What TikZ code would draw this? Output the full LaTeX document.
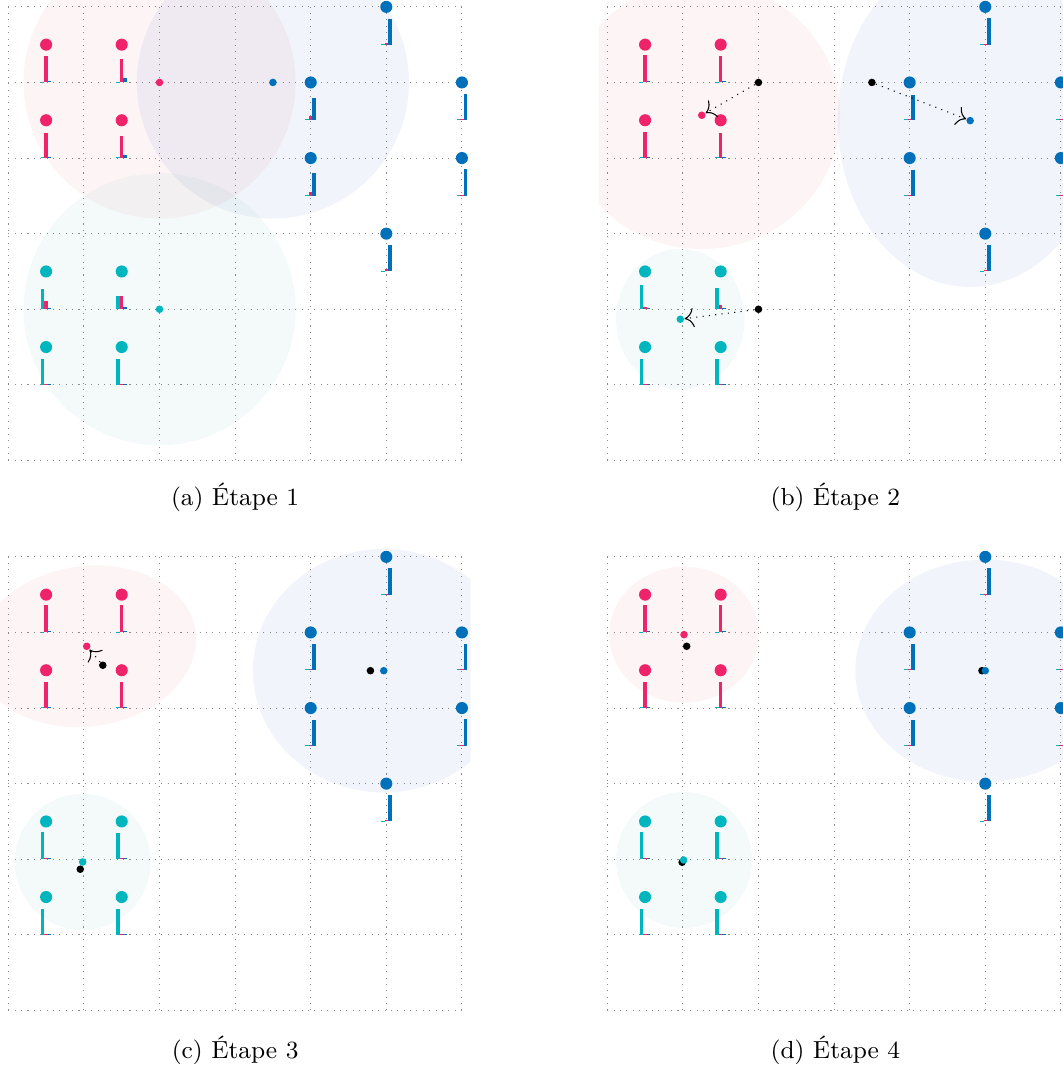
\documentclass[tikz,border=0pt]{standalone}
\usetikzlibrary{arrows.meta}
\definecolor{pkC}{RGB}{238,35,105}
\definecolor{blC}{RGB}{0,112,186}
\definecolor{cyC}{RGB}{0,182,190}
\definecolor{pkF}{RGB}{225,35,60}
\definecolor{blF}{RGB}{0,55,160}
\definecolor{cyF}{RGB}{0,140,140}
% data point: x y dotcolour cyanH pinkH blueH (bar heights in px)
\newcommand\dpt[6]{%
  \fill[cyC] ({#1-0.069},{#2-0.5}) rectangle ({#1-0.023},{#2-0.5+#4/75.6});
  \fill[pkC] ({#1-0.023},{#2-0.5}) rectangle ({#1+0.023},{#2-0.5+#5/75.6});
  \fill[blC] ({#1+0.023},{#2-0.5}) rectangle ({#1+0.069},{#2-0.5+#6/75.6});
  \fill[#3] (#1,#2) circle (0.08);
}
\newcommand\pgrid{%
  \clip (-0.115,-0.115) rectangle (6.115,6.115);
  \draw[gridl] (0,0) grid (6,6);
}
\begin{document}
\begin{tikzpicture}[x=1cm,y=1cm,
  gridl/.style={black!45, dotted, line width=0.4pt},
  pblob/.style={fill=pkF, fill opacity=0.05},
  bblob/.style={fill=blF, fill opacity=0.055},
  cblob/.style={fill=cyF, fill opacity=0.045},
  mdot/.style={circle, inner sep=0pt, minimum size=0.1cm},
  oldm/.style={mdot, fill=black},
  conn/.style={dotted, line width=0.4pt, -{Computer Modern Rightarrow[scale=1.4]}},
  captext/.style={font=\fontsize{9.3}{11}\selectfont}]
\useasboundingbox (0,0) rectangle (14.048,14.114);

% ---------------- (a)
\begin{scope}[shift={(0.110,8.023)}]
\begin{scope}
\pgrid
\fill[pblob] (2,5) circle (1.8);
\fill[bblob] (3.5,5) circle (1.8);
\fill[cblob] (2,2) circle (1.8);
\dpt{0.5}{5.5}{pkC}{0.8}{26}{1}
\dpt{1.5}{5.5}{pkC}{0.8}{23}{4}
\dpt{0.5}{4.5}{pkC}{0.8}{25}{1}
\dpt{1.5}{4.5}{pkC}{0.8}{22}{3.5}
\dpt{5}{6}{blC}{0.8}{2}{26}
\dpt{4}{5}{blC}{0.8}{4}{22.7}
\dpt{6}{5}{blC}{0.8}{1}{26.7}
\dpt{4}{4}{blC}{0.8}{4}{22.7}
\dpt{6}{4}{blC}{0.8}{1}{26.7}
\dpt{5}{3}{blC}{0.8}{2}{26}
\dpt{0.5}{2.5}{cyC}{20}{8.3}{1.7}
\dpt{1.5}{2.5}{cyC}{13}{13}{2}
\dpt{0.5}{1.5}{cyC}{26}{0.8}{0.8}
\dpt{1.5}{1.5}{cyC}{26}{0.8}{0.8}
\node[mdot, fill=pkC] (pa) at (2,5) {};
\node[mdot, fill=blC] (ba) at (3.5,5) {};
\node[mdot, fill=cyC] (ca) at (2,2) {};
\end{scope}
\end{scope}
\node[captext] (capa) at (3.11,7.54) {(a) Étape 1};

% ---------------- (b)
\begin{scope}[shift={(8.033,8.023)}]
\begin{scope}
\pgrid
\fill[pblob] (1.25,4.566) ellipse [x radius=1.83, y radius=1.77];
\fill[bblob] (4.8,4.495) ellipse [x radius=1.75, y radius=2.2];
\fill[cblob] (0.966,1.868) ellipse [x radius=0.85, y radius=0.93];
\dpt{0.5}{5.5}{pkC}{0.8}{27}{1}
\dpt{1.5}{5.5}{pkC}{0.8}{26}{1.3}
\dpt{0.5}{4.5}{pkC}{0.8}{26}{1}
\dpt{1.5}{4.5}{pkC}{0.8}{25}{1}
\dpt{5}{6}{blC}{0.8}{1}{26.7}
\dpt{4}{5}{blC}{0.8}{1}{25.7}
\dpt{6}{5}{blC}{0.8}{1}{26}
\dpt{4}{4}{blC}{0.8}{1}{25.7}
\dpt{6}{4}{blC}{0.8}{1}{26}
\dpt{5}{3}{blC}{0.8}{1}{26.7}
\dpt{0.5}{2.5}{cyC}{24.7}{2.7}{0.8}
\dpt{1.5}{2.5}{cyC}{21.7}{4.7}{0.8}
\dpt{0.5}{1.5}{cyC}{26.3}{0.8}{0.8}
\dpt{1.5}{1.5}{cyC}{26.3}{0.8}{0.8}
\node[oldm] (pbo) at (2,5) {};
\node[oldm] (bbo) at (3.5,5) {};
\node[oldm] (cbo) at (2,2) {};
\node[mdot, fill=pkC] (pb) at (1.25,4.566) {};
\node[mdot, fill=blC] (bb) at (4.8,4.495) {};
\node[mdot, fill=cyC] (cb) at (0.966,1.868) {};
\draw[conn] (pbo) -- (pb);
\draw[conn] (bbo) -- (bb);
\draw[conn] (cbo) -- (cb);
\end{scope}
\end{scope}
\node[captext] (capb) at (11.05,7.54) {(b) Étape 2};

% ---------------- (c)
\begin{scope}[shift={(0.110,0.748)}]
\begin{scope}
\pgrid
\fill[pblob, rotate around={8:(1.037,4.817)}] (1.037,4.817) ellipse [x radius=1.455, y radius=1.06];
\fill[bblob] (4.966,4.494) ellipse [x radius=1.73, y radius=1.61];
\fill[cblob] (0.984,1.964) circle (0.9);
\dpt{0.5}{5.5}{pkC}{0.8}{27}{1}
\dpt{1.5}{5.5}{pkC}{0.8}{27}{1}
\dpt{0.5}{4.5}{pkC}{0.8}{26.3}{1}
\dpt{1.5}{4.5}{pkC}{0.8}{26.3}{1}
\dpt{5}{6}{blC}{0.8}{1}{26.7}
\dpt{4}{5}{blC}{0.8}{1}{26.7}
\dpt{6}{5}{blC}{0.8}{1}{26.7}
\dpt{4}{4}{blC}{0.8}{1}{25.7}
\dpt{6}{4}{blC}{0.8}{1}{26.7}
\dpt{5}{3}{blC}{0.8}{1}{26.7}
\dpt{0.5}{2.5}{cyC}{27.3}{0.8}{0.8}
\dpt{1.5}{2.5}{cyC}{26}{0.8}{0.8}
\dpt{0.5}{1.5}{cyC}{26.3}{0.8}{0.8}
\dpt{1.5}{1.5}{cyC}{26.3}{0.8}{0.8}
\node[oldm] (pco) at (1.25,4.566) {};
\node[oldm] (bco) at (4.79,4.494) {};
\node[oldm] (cco) at (0.952,1.868) {};
\node[mdot, fill=pkC] (pc) at (1.037,4.817) {};
\node[mdot, fill=blC] (bc) at (4.966,4.494) {};
\node[mdot, fill=cyC] (cc) at (0.984,1.964) {};
\draw[conn] (pco) -- (pc);
\end{scope}
\end{scope}
\node[captext] (capc) at (3.11,0.225) {(c) Étape 3};

% ---------------- (d)
\begin{scope}[shift={(8.033,0.748)}]
\begin{scope}
\pgrid
\fill[pblob] (1.015,4.971) ellipse [x radius=0.99, y radius=0.9];
\fill[bblob] (5.0,4.494) ellipse [x radius=1.72, y radius=1.47];
\fill[cblob] (1.015,1.99) circle (0.9);
\dpt{0.5}{5.5}{pkC}{0.8}{27}{1}
\dpt{1.5}{5.5}{pkC}{0.8}{27}{1}
\dpt{0.5}{4.5}{pkC}{0.8}{26.3}{1}
\dpt{1.5}{4.5}{pkC}{0.8}{26.3}{1}
\dpt{5}{6}{blC}{0.8}{1}{26.7}
\dpt{4}{5}{blC}{0.8}{1}{26.7}
\dpt{6}{5}{blC}{0.8}{1}{26.7}
\dpt{4}{4}{blC}{0.8}{1}{25.7}
\dpt{6}{4}{blC}{0.8}{1}{26.7}
\dpt{5}{3}{blC}{0.8}{1}{26.7}
\dpt{0.5}{2.5}{cyC}{27.3}{0.8}{0.8}
\dpt{1.5}{2.5}{cyC}{27.3}{0.8}{0.8}
\dpt{0.5}{1.5}{cyC}{26.3}{0.8}{0.8}
\dpt{1.5}{1.5}{cyC}{26.3}{0.8}{0.8}
\node[oldm] (pdo) at (1.05,4.817) {};
\node[oldm] (bdo) at (4.956,4.494) {};
\node[oldm] (cdo) at (0.99,1.96) {};
\node[mdot, fill=pkC] (pd) at (1.015,4.971) {};
\node[mdot, fill=blC] (bd) at (5.0,4.494) {};
\node[mdot, fill=cyC] (cd) at (1.01,1.99) {};
\end{scope}
\end{scope}
\node[captext] (capd) at (11.05,0.225) {(d) Étape 4};
\end{tikzpicture}
\end{document}
